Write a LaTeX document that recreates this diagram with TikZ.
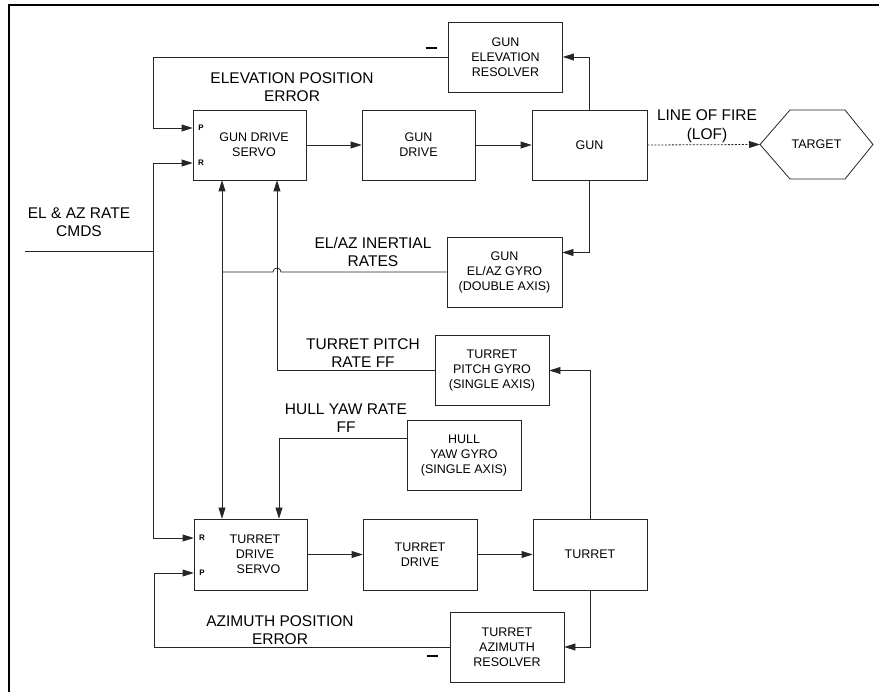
\documentclass[tikz,border=0pt]{standalone}
\usepackage{fontspec}
\setmainfont{Liberation Sans}
\usetikzlibrary{arrows.meta}
\begin{document}
\begin{tikzpicture}[x=1pt,y=-1pt,
        blockbox/.style={draw=black!85,line width=0.8pt,minimum width=114pt,minimum height=70pt,inner sep=0pt,align=center,font=\fontsize{12.5}{15}\selectfont},
        sigtext/.style={align=center,inner sep=0pt,font=\fontsize{15.5}{18.5}\selectfont},
        pintext/.style={inner sep=0pt,font=\fontsize{8}{9}\selectfont\bfseries},
        flow/.style={draw=black!85,line width=0.8pt},
        flowarrow/.style={flow,-{Triangle[length=11pt,width=7pt]}},
        biarrow/.style={flow,{Triangle[length=11pt,width=7pt]}-{Triangle[length=11pt,width=7pt]}}]
        \useasboundingbox (0,0) rectangle (879,692);
        \draw[line width=1.4pt] (9,692) -- (9,5) -- (879,5);

        \node[blockbox] (gunres) at (505.5,57) {GUN\\ELEVATION\\RESOLVER};
        \node[blockbox,minimum width=113pt] (gunservo) at (249.5,145) {\hspace*{9pt}GUN DRIVE\\\hspace*{9pt}SERVO};
        \node[blockbox,minimum width=113pt] (gundrive) at (418.5,145) {GUN\\DRIVE};
        \node[blockbox,minimum width=115pt] (gun) at (589.5,145) {GUN};
        \node[inner sep=0pt,font=\fontsize{12.5}{15}\selectfont] (target) at (816.5,144.5) {TARGET};
        \coordinate (tgtpt) at (760,144.5);
        \draw[flow] (tgtpt) -- (790,110) -- (845,110) -- (873,144.5) -- (845,179) -- (790,179) -- cycle;
        \node[blockbox,minimum width=115pt] (gungyro) at (504.5,272) {GUN\\EL/AZ GYRO\\(DOUBLE AXIS)};
        \node[blockbox] (pitchgyro) at (492,370.5) {TURRET\\PITCH GYRO\\(SINGLE AXIS)};
        \node[blockbox] (hullgyro) at (464,455.5) {HULL\\YAW GYRO\\(SINGLE AXIS)};
        \node[blockbox,minimum width=113pt,minimum height=71pt] (turservo) at (250.5,554.5) {\hspace*{9pt}TURRET\\\hspace*{9pt}DRIVE\\\hspace*{16pt}SERVO};
        \node[blockbox,minimum height=71pt] (turdrive) at (420,554.5) {TURRET\\DRIVE};
        \node[blockbox,minimum height=71pt] (turret) at (590,554.5) {TURRET};
        \node[blockbox] (turres) at (507,647) {TURRET\\AZIMUTH\\RESOLVER};

        \node[pintext] (gunP) at (201,128) {P};
        \node[pintext] (gunR) at (201,163) {R};
        \node[pintext] (turR) at (202,538) {R};
        \node[pintext] (turP) at (202,573) {P};

        \node[sigtext] (elerr) at (292,87) {ELEVATION POSITION\\ERROR};
        \node[sigtext] (elminus) at (431,48) {\rule{11pt}{1.8pt}};
        \node[sigtext] (lof) at (707,126) {LINE OF FIRE\\(LOF)};
        \node[sigtext] (cmdtxt) at (79,222) {EL \& AZ RATE\\CMDS};
        \node[sigtext] (inrates) at (373,252) {EL/AZ INERTIAL\\RATES};
        \node[sigtext] (pitchff) at (363,353) {TURRET PITCH\\RATE FF};
        \node[sigtext] (yawff) at (346,418) {HULL YAW RATE\\FF};
        \node[sigtext] (azerr) at (280,630) {AZIMUTH POSITION\\ERROR};
        \node[sigtext] (azminus) at (432,656) {\rule{11pt}{1.8pt}};

        \coordinate (cmds) at (25,251);
        \coordinate (bus) at (153,251);
        \coordinate (jn) at (222,272);

        \draw[flowarrow] (gun.north) |- (gunres.east);
        \draw[flowarrow] (gunres.west) -- (153,57) |- ([yshift=17pt]gunservo.west);
        \draw[flow] (cmds) -- (bus);
        \draw[flowarrow] (bus) |- ([yshift=-18pt]gunservo.west);
        \draw[flowarrow] (bus) |- ([yshift=16.5pt]turservo.west);
        \draw[flowarrow] (turres.west) -- (154,647) |- ([yshift=-18.5pt]turservo.west);
        \draw[flowarrow] (gunservo.east) -- (gundrive.west);
        \draw[flowarrow] (gundrive.east) -- (gun.west);
        \draw[flowarrow,dash pattern=on 2pt off 1.5pt] (gun.east) -- (tgtpt);
        \draw[flowarrow] (gun.south) |- ([yshift=19.5pt]gungyro.east);
        \draw[flow] (gungyro.west) -- (281,272) arc[start angle=0,end angle=180,radius=4pt] -- (jn);
        \draw[biarrow] (gunservo.south -| jn) -- (turservo.north -| jn);
        \draw[flowarrow] (pitchgyro.west) -| ([xshift=27.5pt]gunservo.south);
        \draw[flowarrow] (turret.north) |- (pitchgyro.east);
        \draw[flowarrow] ([yshift=17.5pt]hullgyro.west) -| ([xshift=28.5pt]turservo.north);
        \draw[flowarrow] (turservo.east) -- (turdrive.west);
        \draw[flowarrow] (turdrive.east) -- (turret.west);
        \draw[flowarrow] (turret.south) |- (turres.east);
\end{tikzpicture}
\end{document}
